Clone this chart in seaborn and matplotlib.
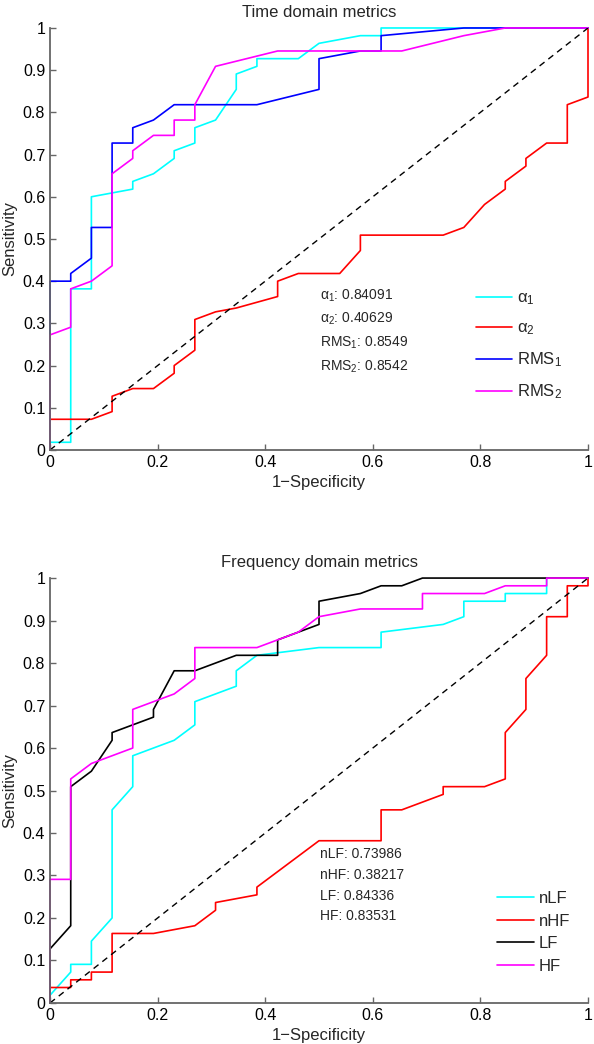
"""ROC curves for time and frequency domain metrics."""
import matplotlib

matplotlib.use("Agg")
import matplotlib.pyplot as plt
import pandas as pd
import seaborn as sns

# time domain curves (1-specificity, sensitivity)
alpha1_x = [0, 0, 0.0385, 0.0385, 0.0769, 0.0769, 0.1538, 0.1538, 0.1923, 0.2308, 0.2308,
            0.2692, 0.2692, 0.3077, 0.3462, 0.3462, 0.3846, 0.3846, 0.4615, 0.5, 0.5769,
            0.6154, 0.6154, 1]
alpha1_y = [0, 0.0182, 0.0182, 0.3818, 0.3818, 0.6, 0.6182, 0.6364, 0.6545, 0.6909, 0.7091,
            0.7273, 0.7636, 0.7818, 0.8545, 0.8909, 0.9091, 0.9273, 0.9273, 0.9636, 0.9818,
            0.9818, 1, 1]
alpha2_x = [0, 0, 0.0769, 0.1154, 0.1154, 0.1538, 0.1923, 0.2308, 0.2308, 0.2692, 0.2692,
            0.3077, 0.3462, 0.4231, 0.4231, 0.4615, 0.5385, 0.5769, 0.5769, 0.7308, 0.7692,
            0.8077, 0.8462, 0.8462, 0.8846, 0.8846, 0.9231, 0.9615, 0.9615, 1, 1]
alpha2_y = [0, 0.0727, 0.0727, 0.0909, 0.1273, 0.1455, 0.1455, 0.1818, 0.2, 0.2364, 0.3091,
            0.3273, 0.3364, 0.3636, 0.4, 0.4182, 0.4182, 0.4727, 0.5091, 0.5091, 0.5273,
            0.5818, 0.6182, 0.6364, 0.6727, 0.6909, 0.7273, 0.7273, 0.8182, 0.8364, 1]
rms1_x = [0, 0, 0.0385, 0.0385, 0.0769, 0.0769, 0.1154, 0.1154, 0.1538, 0.1538, 0.1923,
          0.2308, 0.3846, 0.5, 0.5, 0.5769, 0.6154, 0.6154, 0.7692, 1]
rms1_y = [0, 0.4, 0.4, 0.4182, 0.4545, 0.5273, 0.5273, 0.7273, 0.7273, 0.7636, 0.7818,
          0.8182, 0.8182, 0.8545, 0.9273, 0.9455, 0.9455, 0.9818, 1, 1]
rms2_x = [0, 0, 0.0385, 0.0385, 0.0769, 0.1154, 0.1154, 0.1538, 0.1538, 0.1923, 0.2308,
          0.2308, 0.2692, 0.2692, 0.3077, 0.4231, 0.6538, 0.7692, 0.8462, 1]
rms2_y = [0, 0.2727, 0.2909, 0.3818, 0.4, 0.4364, 0.6545, 0.6909, 0.7091, 0.7455, 0.7455,
          0.7818, 0.7818, 0.8182, 0.9091, 0.9455, 0.9455, 0.9818, 1, 1]

# frequency domain curves
nlf_x = [0, 0, 0.0385, 0.0385, 0.0769, 0.0769, 0.1154, 0.1154, 0.1538, 0.1538, 0.2308,
         0.2692, 0.2692, 0.3462, 0.3462, 0.3846, 0.5, 0.6154, 0.6154, 0.7308, 0.7692,
         0.7692, 0.8462, 0.8462, 0.9231, 0.9231, 1]
nlf_y = [0, 0.0182, 0.0727, 0.0909, 0.0909, 0.1455, 0.2, 0.4545, 0.5091, 0.5818, 0.6182,
         0.6545, 0.7091, 0.7455, 0.7818, 0.8182, 0.8364, 0.8364, 0.8727, 0.8909, 0.9091,
         0.9455, 0.9455, 0.9636, 0.9636, 1, 1]
nhf_x = [0, 0, 0.0385, 0.0385, 0.0769, 0.0769, 0.1154, 0.1154, 0.1923, 0.2692, 0.3077,
         0.3077, 0.3846, 0.3846, 0.5, 0.6154, 0.6154, 0.6538, 0.7308, 0.7308, 0.8077,
         0.8462, 0.8462, 0.8846, 0.8846, 0.9231, 0.9231, 0.9615, 0.9615, 1, 1]
nhf_y = [0, 0.0364, 0.0364, 0.0545, 0.0545, 0.0727, 0.0727, 0.1636, 0.1636, 0.1818, 0.2182,
         0.2364, 0.2545, 0.2727, 0.3818, 0.3818, 0.4545, 0.4545, 0.4909, 0.5091, 0.5091,
         0.5273, 0.6364, 0.6909, 0.7636, 0.8182, 0.9091, 0.9091, 0.9818, 0.9818, 1]
lf_x = [0, 0, 0.0385, 0.0385, 0.0769, 0.1154, 0.1154, 0.1923, 0.1923, 0.2308, 0.2692,
        0.3462, 0.4231, 0.4231, 0.4615, 0.5, 0.5, 0.5769, 0.6154, 0.6538, 0.6923, 1]
lf_y = [0, 0.1273, 0.1818, 0.5091, 0.5455, 0.6182, 0.6364, 0.6727, 0.6909, 0.7818, 0.7818,
        0.8182, 0.8182, 0.8545, 0.8727, 0.8909, 0.9455, 0.9636, 0.9818, 0.9818, 1, 1]
hf_x = [0, 0, 0.0385, 0.0385, 0.0769, 0.1538, 0.1538, 0.2308, 0.2692, 0.2692, 0.3846,
        0.4615, 0.5, 0.5769, 0.6923, 0.6923, 0.8077, 0.8462, 0.9231, 0.9231, 1]
hf_y = [0, 0.2909, 0.2909, 0.5273, 0.5636, 0.6, 0.6909, 0.7273, 0.7636, 0.8364, 0.8364,
        0.8727, 0.9091, 0.9273, 0.9273, 0.9636, 0.9636, 0.9818, 0.9818, 1, 1]

time_labels = ["α$_1$", "α$_2$", "RMS$_1$", "RMS$_2$"]
time_auc = ["0.84091", "0.40629", "0.8549", "0.8542"]
freq_labels = ["nLF", "nHF", "LF", "HF"]
freq_auc = ["0.73986", "0.38217", "0.84336", "0.83531"]

sns.set_style("ticks")
plt.rcParams["font.family"] = ["Liberation Sans", "DejaVu Sans"]
plt.rcParams["mathtext.default"] = "regular"
plt.rcParams["axes.unicode_minus"] = True

fig = plt.figure(figsize=(5.94, 10.44), dpi=100)
ax_top = fig.add_axes([0.0842, 0.569, 0.9057, 0.4042])
ax_bot = fig.add_axes([0.0842, 0.0393, 0.9057, 0.407])


def draw_panel(ax, curves, labels, auc, colors, title, leg_anchor, leg_space, text_y):
    for (xs, ys), lab, col in zip(curves, labels, colors):
        df = pd.DataFrame({"x": xs, "y": ys})
        sns.lineplot(data=df, x="x", y="y", sort=False, estimator=None, color=col,
                     lw=1.2, label=lab, ax=ax, clip_on=False)
    ax.plot([0, 1], [0, 1], color="black", lw=1.0, ls=(0, (4.5, 3.5)))
    ax.set_xlim(0, 1)
    ax.set_ylim(0, 1)
    ax.set_xticks([0, 0.2, 0.4, 0.6, 0.8, 1])
    ax.set_xticklabels(["0", "0.2", "0.4", "0.6", "0.8", "1"])
    ax.set_yticks([i / 10 for i in range(11)])
    ax.set_yticklabels(["0"] + [f"0.{i}" for i in range(1, 10)] + ["1"])
    ax.tick_params(direction="in", length=4, width=1, color="0.4", labelsize=11.5,
                   labelcolor="black")
    for side in ["top", "right"]:
        ax.spines[side].set_visible(False)
    for side in ["left", "bottom"]:
        ax.spines[side].set_color("0.4")
        ax.spines[side].set_linewidth(1.3)
    ax.set_xlabel("1\u2212Specificity", fontsize=12, labelpad=4)
    ax.set_ylabel("Sensitivity", fontsize=12, labelpad=4)
    ax.set_title(title, fontsize=12, pad=8)
    txt = "\n".join(f"{l}: {a}" for l, a in zip(labels, auc))
    ax.text(0.502, text_y, txt, transform=ax.transAxes, fontsize=10, va="top",
            linespacing=1.6)
    ax.legend(loc="upper left", bbox_to_anchor=leg_anchor, frameon=False, fontsize=12,
              handlelength=2.2, handletextpad=0.3, borderpad=0, borderaxespad=0,
              labelspacing=leg_space)


draw_panel(ax_top, [(alpha1_x, alpha1_y), (alpha2_x, alpha2_y), (rms1_x, rms1_y),
                    (rms2_x, rms2_y)],
           time_labels, time_auc, ["#00ffff", "#ff0000", "#0000ff", "#ff00ff"],
           "Time domain metrics", (0.791, 0.378), 0.8, 0.385)
draw_panel(ax_bot, [(nlf_x, nlf_y), (nhf_x, nhf_y), (lf_x, lf_y), (hf_x, hf_y)],
           freq_labels, freq_auc, ["#00ffff", "#ff0000", "#000000", "#ff00ff"],
           "Frequency domain metrics", (0.831, 0.263), 0.45, 0.366)

fig.savefig("out.png", dpi=100)
